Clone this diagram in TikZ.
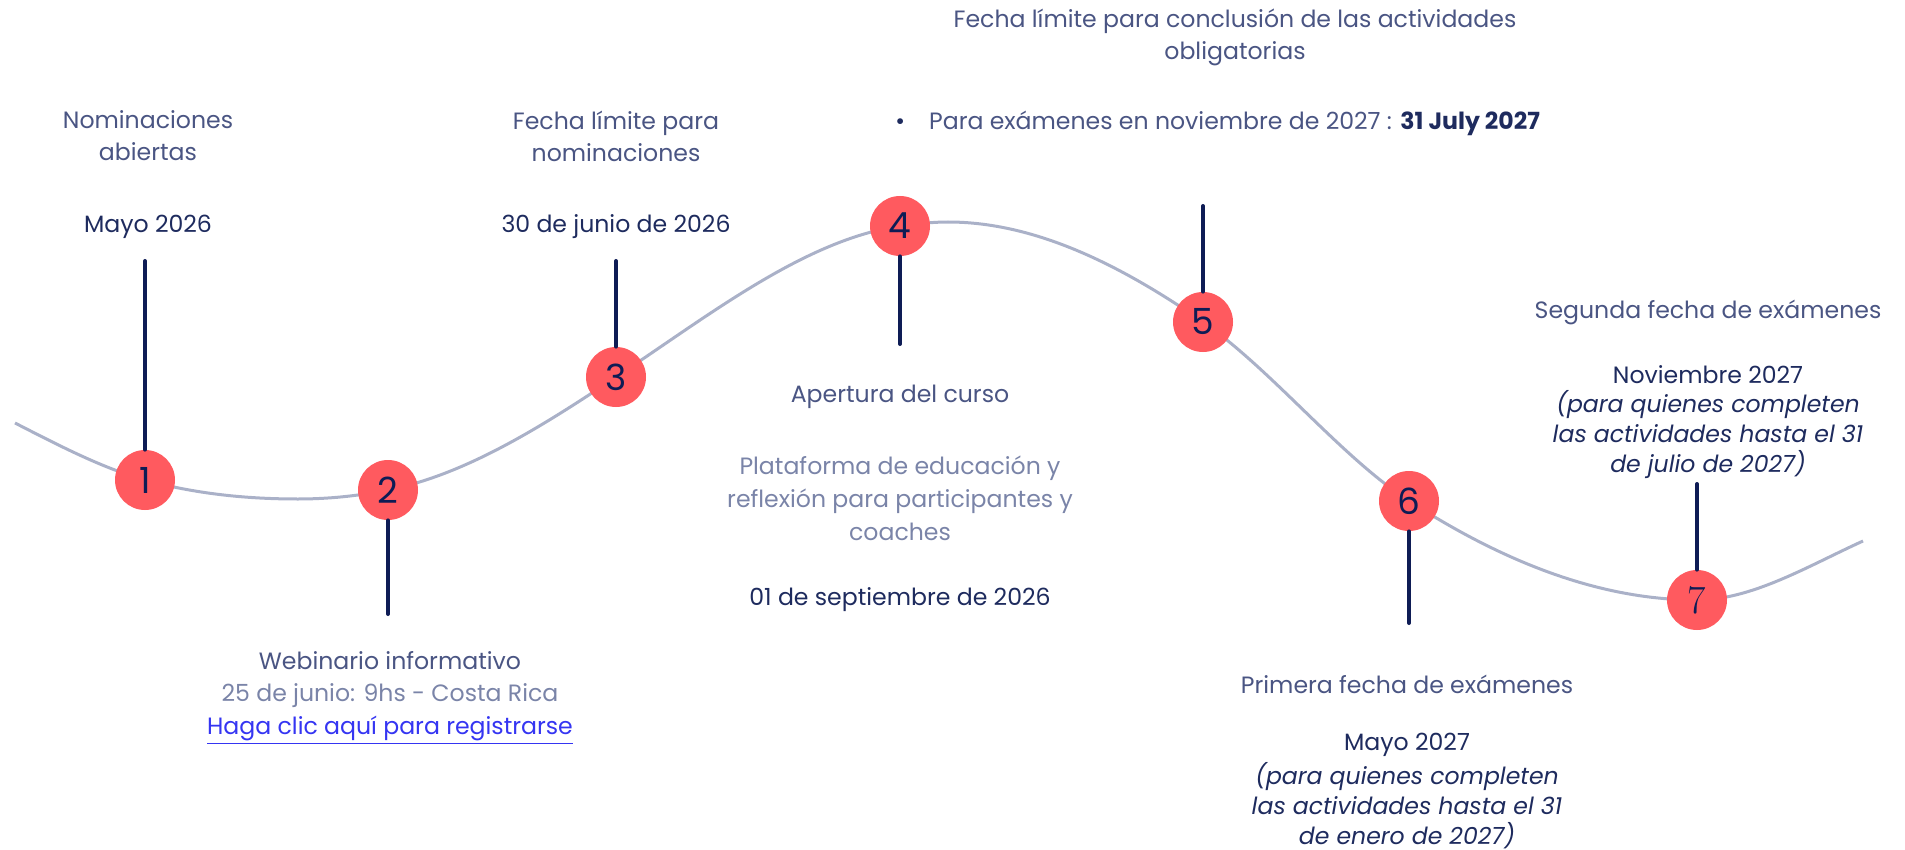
\documentclass[tikz,border=0pt]{standalone}
\usepackage{fontspec}
\newfontfamily\mont{Poppins}
\usetikzlibrary{positioning}
\definecolor{hito}{HTML}{FF5A5F}
\definecolor{marino}{HTML}{0E1C55}
\definecolor{titulo}{HTML}{4A5583}
\definecolor{fecha}{HTML}{1E2B5E}
\definecolor{suave}{HTML}{7A84A8}
\definecolor{curva}{HTML}{AAB1C8}
\definecolor{enlace}{HTML}{3535F2}

\tikzset{
  hitonum/.style={circle, fill=hito, minimum size=30pt, inner sep=0pt, text=marino, font=\mont\fontsize{18}{20}\selectfont},
  stem/.style={draw=marino, line width=2pt, line cap=round},
  txthead/.style={align=center, text=titulo, font=\mont\fontsize{11.8}{16}\selectfont},
  txtdate/.style={align=center, text=fecha, font=\mont\fontsize{11.8}{16}\selectfont},
  txtsoft/.style={align=center, text=suave, font=\mont\fontsize{11.8}{16.5}\selectfont},
  txtital/.style={align=center, text=fecha, font=\mont\itshape\fontsize{11.8}{15}\selectfont}
}

\begin{document}
\begin{tikzpicture}[x=0.5pt, y=-0.5pt]
		\useasboundingbox (0,0) rectangle (1905,850);

		\draw[curva, line width=1.5pt] (15,423)
			.. controls (58,445) and (102,468) .. (145,480)
			.. controls (196,494) and (247,499) .. (298,499)
			.. controls (328,499) and (358,496) .. (388,490)
			.. controls (464,475) and (540,428) .. (616,377)
			.. controls (711,314) and (805,240) .. (900,226)
			.. controls (916,224) and (932,222) .. (948,222)
			.. controls (1033,222) and (1118,263) .. (1203,322)
			.. controls (1272,370) and (1340,456) .. (1409,501)
			.. controls (1505,563) and (1601,600) .. (1697,600)
			.. controls (1752,600) and (1808,566) .. (1863,541);

		\coordinate (s1) at (145,261);
		\coordinate (s2) at (388,614);
		\coordinate (s3) at (616,261);
		\coordinate (s4) at (900,344);
		\coordinate (s5) at (1203,206);
		\coordinate (s6) at (1409,623);
		\coordinate (s7) at (1697,484);

		\node[hitonum] (c1) at (145,480) {1};
		\node[hitonum] (c2) at (388,490) {2};
		\node[hitonum] (c3) at (616,377) {3};
		\node[hitonum] (c4) at (900,226) {4};
		\node[hitonum] (c5) at (1203,322) {5};
		\node[hitonum] (c6) at (1409,501) {6};
		\node[hitonum, font=\rmfamily\fontsize{20}{22}\selectfont] (c7) at (1697,600) {7};

		\draw[stem] (c1) -- (s1);
		\draw[stem] (c2) -- (s2);
		\draw[stem] (c3) -- (s3);
		\draw[stem] (c4) -- (s4);
		\draw[stem] (c5) -- (s5);
		\draw[stem] (c6) -- (s6);
		\draw[stem] (c7) -- (s7);

		\node[txthead] (n1) at (148,136) {Nominaciones\\abiertas};
		\node[txtdate] (d1) at (148,227) {Mayo 2026};

		\node[txthead] (n3) at (616,136) {Fecha límite para\\nominaciones};
		\node[txtdate] (d3) at (616,227) {30 de junio de 2026};

		\node[txthead] (n5) at (1235,37) {Fecha límite para conclusión de las actividades\\obligatorias};
		\node[txtdate, anchor=west, inner sep=0pt] (b5) at (895,123) {\textbullet\hspace{12pt}{\color{titulo}Para exámenes en noviembre de 2027 :} \textbf{31 July 2027}};

		\node[txthead] (n4) at (900,397) {Apertura del curso};
		\node[txtsoft] (l4) at (900,498) {Plataforma de educación y\\reflexión para participantes y\\coaches};
		\node[txtdate] (d4) at (900,600) {01 de septiembre de 2026};

		\node[txthead] (n2) at (390,661) {Webinario informativo};
		\node[txtsoft] (l2) at (390,696) {25 de junio: 9hs - Costa Rica};
		\node[txtsoft, text=enlace] (k2) at (390,730) {\underline{Haga clic aquí para registrarse}};

		\node[txthead] (n6) at (1407,684) {Primera fecha de exámenes};
		\node[txtdate] (d6) at (1407,745) {Mayo 2027};
		\node[txtital] (i6) at (1407,806) {(para quienes completen\\las actividades hasta el 31\\de enero de 2027)};

		\node[txthead] (n7) at (1708,312) {Segunda fecha de exámenes};
		\node[txtdate] (d7) at (1708,375) {Noviembre 2027};
		\node[txtital] (i7) at (1708,435) {(para quienes completen\\las actividades hasta el 31\\de julio de 2027)};
	\end{tikzpicture}
\end{document}
